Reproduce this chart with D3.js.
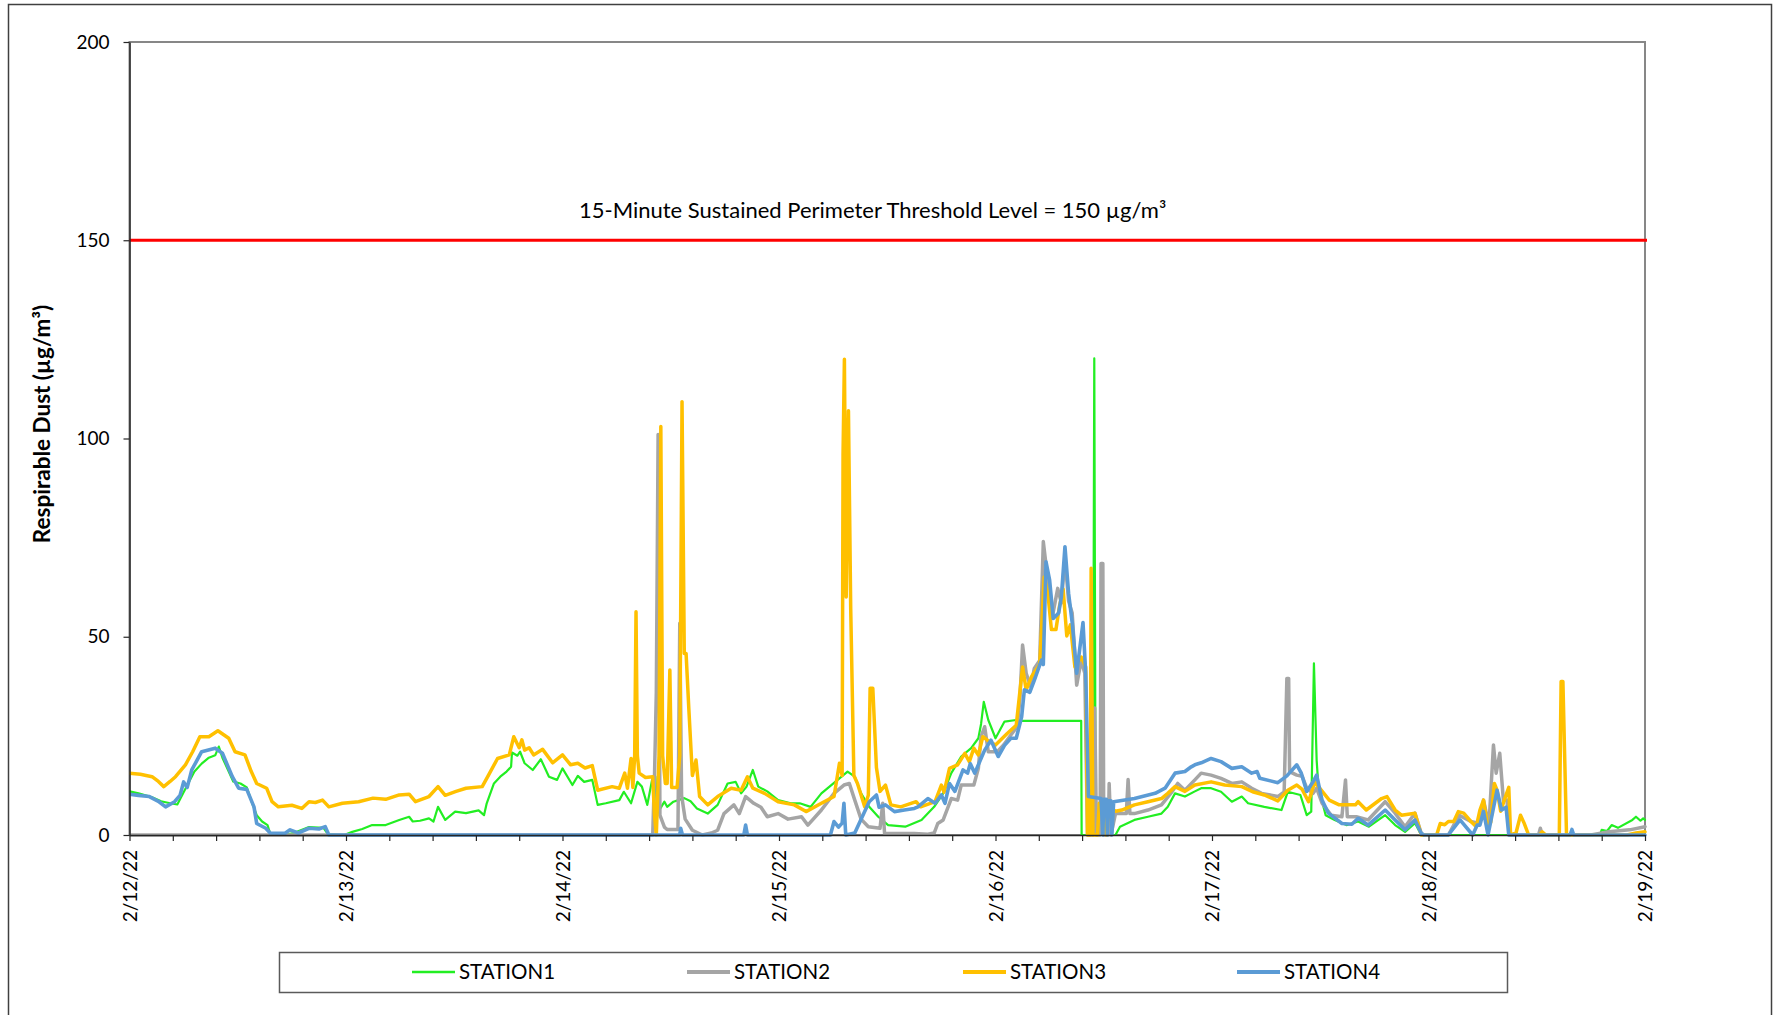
<!DOCTYPE html>
<html>
<head>
<meta charset="utf-8">
<script src="https://cdn.jsdelivr.net/npm/d3@7"></script>
<style>
  body { margin: 0; background: #fff; }
  svg { display: block; }
  text { font-family: Lato, "Open Sans", sans-serif; fill: #000; }
</style>
</head>
<body>
<svg id="chart" width="1774" height="1015"></svg>
<script>
// ---- DATA (hours after 2/12/22 00:00, value in µg/m³) ----
const seriesNames = ["STATION1", "STATION2", "STATION3", "STATION4"];
const yTicks = [0, 50, 100, 150, 200];
const thresholdValue = 150;
const thresholdLabel = "15-Minute Sustained Perimeter Threshold Level = 150 µg/m³";
const yAxisTitle = "Respirable Dust (µg/m³)";
const startDate = new Date(2022, 1, 12);
const endDate = new Date(2022, 1, 19);

const station1 = [
[0,11],[1,10.5],[2.5,9.5],[3.5,8.5],[4.5,8.0],[5.3,7.7],[6.5,13],[7.2,16],[8.0,18],[8.8,19.5],[9.5,20.1],[9.9,22.3],[10.3,19.5],[11.0,16],[11.5,13.5],[12.3,13],[13.0,12],[13.6,8],[14.1,5],[14.7,3.4],[15.3,2.5],[15.6,0.3],[17,0],[18.2,0.5],[19.9,2.0],[21.5,1.8],[22,0.2],[23.8,0],[24.7,0.8],[25.8,1.5],[26.9,2.5],[28.4,2.5],
[29.9,3.8],[31.0,4.6],[31.4,3.4],[32.2,3.6],[33.2,4.2],[33.7,3.4],[34.2,7.1],[35.0,3.8],[36.1,5.9],[37.3,5.5],[38.7,6.2],[39.3,5.0],[39.6,8.0],[40.4,13.0],[41.1,14.7],[41.8,16],[42.3,17.2],[42.4,20.8],[43.0,20.0],[43.3,21.0],[43.8,18.1],[44.7,16.4],[45.6,19.1],[46.5,14.7],[47.4,13.9],[48.0,16.8],[49.1,12.6],[49.7,14.9],[50.4,13.4],[51.3,13.9],[51.9,7.6],[52.8,8],[54.3,8.8],[54.8,10.9],[55.6,8],[56.3,13.4],[56.8,12.2],[57.4,7.6],[58.0,14.7],[58.3,14.7],[58.5,5.4],[59.3,8.4],[59.6,7.1],[60.3,8.4],[61.5,9.3],[62.2,8.5],[62.9,6.7],[64.1,5.4],[65.2,7.6],[66.3,13],[67.2,13.4],[67.8,10.5],[68.4,12.2],[69.1,16.4],[69.7,12.2],[70.7,11],[71.9,8.8],[73.3,8],[74.3,8],[75.5,7.1],[76.7,10.5],[77.8,12.6],[78.5,13.9],[79.6,16],[80.4,14.7],[81.1,10.5],[82.0,7.1],[83.0,4.6],[84.1,2.5],[86,2.1],[87.8,3.8],[89.2,7.1],[90.2,10.5],[91.1,15.6],[92.2,19.8],[93.3,21.9],[94.1,24.4],[94.4,28],[94.7,33.6],[95.2,29],[95.5,27.3],[96,24.4],[97.0,28.6],[98.3,29],[98.8,28.8],[105.5,28.8],[105.55,0],[106.8,0],[106.95,120.2],[107.1,0],[109.3,0],[109.8,2.1],[111.4,3.8],[112.9,4.6],[114.4,5.4],[115.1,7.1],[115.9,10.5],[117,9.7],[118.1,11],[118.8,11.8],[119.9,11.8],[121.0,10.9],[122.2,8.4],[123.3,9.7],[124,8],[125.8,7.1],[127.7,6.3],[128.4,10.9],[129.8,10.1],[130.5,5.0],[131.0,5.9],[131.3,43.3],[131.6,18.9],[131.8,12],[132.6,5],[133.6,3.8],[134.9,2.5],[136.2,3.4],[137.4,2.1],[139.2,5],[140.3,2.5],[141.4,0.8],[142.5,3],[143.2,0],[163.0,0],[163.2,1.3],[163.8,1],[164.3,2.5],[165,1.8],[166.6,3.8],[167.0,4.6],[167.5,3.6],[167.8,4.2],[168,3.8]
];

const station2 = [
[0,0],[58.0,0],[58.2,15],[58.4,36],[58.6,101],[58.8,5],[59.3,2],[59.6,1.4],[60.8,1.4],[61.0,53.4],[61.2,10],[61.6,4],[62.4,1.2],[63.5,0],[64.5,0.5],[65.2,1.2],[65.9,5.4],[67.0,7.6],[67.6,5.4],[68.3,9.7],[69.2,8],[70.0,7],[70.7,4.6],[71.9,5.4],[73,4],[74.5,4.6],[75.2,2.5],[76.7,6.3],[78.1,10.5],[79.2,12.6],[79.8,13],[80.4,8.8],[81.1,4],[81.9,2.1],[83.2,1.7],[83.5,8],[83.7,0.4],[87,0.4],[88.5,0.2],[89.2,0.5],[89.6,2.9],[90.2,3.8],[91.1,9.2],[91.8,8.8],[92.2,12.6],[93.6,12.6],[94.1,16.8],[94.4,24.8],[94.8,27.3],[95.2,21],[96.2,21],[96.9,22.7],[97.7,25.2],[98.4,27.3],[98.7,34],[99.0,47.9],[99.4,40.8],[99.9,37.4],[100.3,42],[100.9,44],[101.3,74],[101.8,64.3],[102.3,55],[102.9,62.2],[103.3,58.5],[103.7,70],[104.1,59],[104.5,56],[105,37.8],[105.5,44],[105.9,40.8],[106.2,0],[106.8,0],[107.0,32],[107.2,0],[107.6,0],[107.7,68.5],[107.9,68.5],[108.0,0],[108.5,0],[108.6,13],[108.8,0],[109.3,5.4],[110.5,5.4],[110.7,14],[110.9,5.4],[111.4,5.4],[112.9,6.3],[114.4,7.6],[115.6,11],[116.2,13],[117,11.3],[118.1,13.9],[118.8,15.6],[119.9,15.1],[121.0,14.3],[122.2,13],[123.3,13.4],[124.4,11.8],[125.5,10.5],[127.3,9.7],[128.0,10.9],[128.3,39.5],[128.5,39.5],[128.6,16],[129.4,15.1],[130.0,14.8],[130.5,11.8],[131.2,10.5],[131.6,11.8],[132.2,8.0],[133.2,5.0],[134.4,4.6],[134.8,13.9],[135.0,4.6],[136.0,4.6],[137.3,3.8],[139.2,8.4],[140.3,5.5],[141.4,2.1],[142.5,5.5],[143.2,0.4],[143.5,0],[146.2,0],[147.4,5],[148.7,3.4],[149.6,2.9],[150.1,8.8],[150.7,2.4],[151.2,22.7],[151.5,15.6],[151.9,20.6],[152.3,8.8],[152.7,8.8],[153.0,0],[156.2,0],[156.4,1.7],[156.6,0],[162,0],[164,0.8],[166.3,1.3],[168,2.1]
];

const station3 = [
[0,15.6],[1.2,15.3],[2.5,14.7],[3.2,13.5],[3.8,12.2],[4.5,13.5],[5.1,14.7],[6.2,17.7],[7.0,21],[7.8,24.8],[8.8,24.8],[9.8,26.3],[11.0,24.4],[11.7,21.0],[12.8,20.2],[13.5,16],[14.1,13.0],[15.2,11.8],[15.8,8.4],[16.5,7.1],[18,7.5],[19.1,6.7],[19.9,8.4],[20.6,8.2],[21.4,8.8],[22.1,7.1],[23.6,8.0],[25.4,8.4],[27,9.3],[28.4,9.0],[29.9,10.1],[31.0,10.3],[31.7,8.4],[33.2,9.7],[34.2,12.2],[35.0,10],[36.2,11],[37.3,11.8],[39.1,12.2],[39.8,15.1],[40.8,19.3],[42.1,20.2],[42.6,24.8],[43.2,22],[43.5,24],[43.8,21.4],[44.3,22],[44.8,20.2],[45.8,21.6],[46.9,18.2],[48.0,20.2],[48.9,17.7],[49.7,18.1],[50.5,16.9],[51.3,17.5],[51.9,11.3],[53.5,12.2],[54.3,11.8],[54.9,15.6],[55.2,11.8],[55.6,19.3],[55.8,12],[56.0,20],[56.15,56.3],[56.3,20],[56.5,15.6],[57.2,14.5],[58.0,14.7],[58.2,5],[58.4,0],[58.7,20],[58.9,103],[59.1,20],[59.4,13],[59.6,13],[59.9,41.6],[60.1,12],[60.7,12],[61.0,20],[61.25,109.3],[61.5,45.8],[61.7,45.8],[62.0,32],[62.4,15],[62.8,18.9],[63.2,9.7],[64.1,7.6],[65.2,9.7],[66.7,11.8],[67.8,11.3],[68.5,14.7],[69.1,11.8],[70.4,10.5],[71.9,8.4],[73.7,7.6],[75.0,5.9],[76.7,8],[78.1,9.7],[78.7,18.1],[79.0,15],[79.1,96],[79.25,120],[79.45,60],[79.7,107],[79.95,57],[80.3,15],[80.7,13],[81.5,7.1],[81.9,10],[82.1,37],[82.4,37],[82.8,17],[83.2,11],[83.8,12.6],[84.4,7.6],[85.5,7.1],[87.2,8.4],[87.7,7.1],[89.3,8.4],[90,12.6],[90.3,10.8],[90.9,16.8],[91.8,17.7],[92.6,20.6],[93.1,18.5],[93.6,21.9],[94.1,20.2],[94.6,24.8],[95.1,23.9],[96,22.7],[97.3,25.6],[98.3,27.7],[99.0,42.4],[99.4,36.6],[100,40],[100.9,43],[101.4,65.1],[101.8,61],[102.2,51.8],[102.7,51.8],[103.1,57.8],[103.5,62],[103.9,50.2],[104.3,53],[104.8,42.4],[105.5,44.9],[106.0,42.4],[106.2,0],[106.5,0],[106.6,67.3],[106.8,0],[107.3,0],[107.5,8],[108.0,8],[108.3,0],[108.6,7],[109.3,6],[110.0,6.3],[111.4,7.6],[112.9,8.4],[114.4,9.2],[115.1,10.5],[115.9,12.2],[117,11],[118.1,12.6],[119.9,13.4],[121.4,12.6],[123.3,12.2],[124.5,10.9],[125.8,10.1],[127.3,8.6],[128.4,11.3],[129.4,12.6],[130.0,11.5],[130.7,8.4],[131.4,13.4],[131.8,12.2],[133,8.8],[134.1,7.6],[135.9,7.6],[136.2,8.4],[137.1,6.3],[138.8,9.2],[139.4,9.7],[140.3,6.3],[141,5],[142.5,5.5],[143.2,0],[144.9,0],[145.3,2.9],[145.8,2.6],[146.2,3.4],[146.8,3.4],[147.3,5.9],[147.9,5.5],[148.7,3.4],[149.3,2.1],[149.7,6.3],[150.1,8.8],[150.5,2.9],[150.9,3.2],[151.3,13],[151.6,11.3],[152.0,6],[152.4,8.8],[152.9,12],[153.1,0],[153.7,0.5],[154.2,5],[154.6,3],[155.1,0],[156.3,0],[156.6,0.8],[157,0],[158.5,0],[158.7,38.7],[158.9,38.7],[159.3,0],[166,0],[167,0.5],[168,0.8]
];

const station4 = [
[0,10.3],[1.0,10],[2.2,9.7],[3.2,8.5],[4.0,7.1],[5.0,8.4],[5.6,10],[6.0,13.4],[6.4,12],[6.9,16.4],[8.0,21.0],[9.5,21.9],[10.3,20.6],[11.4,14.7],[12.1,11.8],[13.0,11.5],[13.8,7.1],[14.1,2.9],[15.1,1.7],[15.6,0.5],[17.2,0.4],[17.8,1.3],[18.7,0.5],[19.9,1.7],[21.0,1.5],[21.7,2.1],[22.1,0],[61.0,0],[61.1,1.7],[61.3,0],[68.1,0],[68.3,2.5],[68.5,0],[77.7,0],[78.1,3.4],[78.6,2],[79.0,3],[79.2,8],[79.4,0],[80.4,0.5],[81.1,4],[82.0,8.4],[82.8,10.1],[83.1,7],[83.8,7.6],[84.8,5.9],[85.9,6.3],[87.0,6.7],[87.4,7.1],[88.5,9.2],[89.3,8],[90.0,10.1],[90.4,8],[90.9,13],[91.5,11],[92.4,16.4],[92.9,15.6],[93.2,18],[93.7,15.6],[94.8,21.4],[95.5,23.9],[96.3,19.8],[97.0,22.6],[97.7,24.4],[98.3,24.4],[98.9,29.8],[99.2,36.6],[99.8,36],[100.3,39],[100.7,41.6],[101.1,44.1],[101.3,43],[101.6,68.9],[102.0,64.3],[102.4,54.6],[103.0,56],[103.3,60],[103.7,72.7],[104.1,61],[104.5,53.6],[105.0,40.8],[105.7,53.6],[106.0,40.8],[106.3,9.7],[107.7,9.2],[107.9,0],[108.0,9.0],[108.3,9],[108.4,0],[108.5,8.6],[108.8,8.6],[108.9,0],[109.1,8.4],[111.4,9.2],[113.7,10.5],[114.8,11.8],[115.9,15.6],[117,16],[117.7,17.2],[118.1,17.7],[118.8,18.2],[119.9,19.3],[121.0,18.5],[122.2,16.8],[123.3,17.2],[124.4,15.6],[125.0,16],[125.3,14.3],[127.3,13.2],[128.3,14.9],[129.4,17.7],[129.9,15.6],[130.5,11],[131.2,13.4],[131.6,15.1],[132.2,8.8],[132.9,5.5],[134.4,2.9],[135.5,2.7],[136.2,4.2],[137.3,2.5],[139.2,6.3],[140.3,3.8],[141.4,1.3],[142.5,3.8],[143.2,0.4],[143.5,0],[146.2,0],[147.5,3.8],[148.9,0],[149.4,2.5],[149.7,2.5],[150.1,5.9],[150.6,0],[151.6,11.3],[152.1,6.3],[152.6,7],[152.9,0],[159.7,0],[159.9,1.4],[160.1,0],[168,0]
];

const seriesData = [station1, station2, station3, station4];
const seriesColors = ["#22ee22", "#a5a5a5", "#ffc000", "#5b9bd5"];
const seriesWidths = [2.2, 3.5, 3.5, 3.6];

// ---- LAYOUT ----
const svg = d3.select("#chart");
const plot = { left: 129.5, top: 42, right: 1645, bottom: 835 };

// outer frame
svg.append("rect").attr("x", 8.5).attr("y", 4.5).attr("width", 1763).attr("height", 1100)
  .attr("fill", "none").attr("stroke", "#404040").attr("stroke-width", 1.5);

const toDate = h => new Date(startDate.getTime() + h * 3600000);
const x = d3.scaleTime().domain([startDate, endDate]).range([plot.left, plot.right]);
const y = d3.scaleLinear().domain([0, 200]).range([plot.bottom, plot.top]);

// plot area border (top/right)
svg.append("rect").attr("x", plot.left).attr("y", plot.top)
  .attr("width", plot.right - plot.left).attr("height", plot.bottom - plot.top)
  .attr("fill", "none").attr("stroke", "#878787").attr("stroke-width", 2);

// clip
svg.append("clipPath").attr("id", "clip").append("rect")
  .attr("x", plot.left).attr("y", plot.top - 2)
  .attr("width", plot.right - plot.left + 2).attr("height", plot.bottom - plot.top + 4);

// series
const line = d3.line().x(d => x(toDate(d[0]))).y(d => y(d[1]));
const g = svg.append("g").attr("clip-path", "url(#clip)");
seriesData.forEach((s, i) => {
  g.append("path").datum(s).attr("d", line)
    .attr("fill", "none").attr("stroke", seriesColors[i])
    .attr("stroke-width", seriesWidths[i])
    .attr("stroke-linejoin", "round").attr("stroke-linecap", "round");
});

// threshold
svg.append("line").attr("x1", plot.left).attr("x2", plot.right + 2)
  .attr("y1", y(thresholdValue)).attr("y2", y(thresholdValue))
  .attr("stroke", "#ff0000").attr("stroke-width", 3);
svg.append("text").attr("x", 579).attr("y", 218)
  .attr("font-size", 22).text(thresholdLabel);

// Y axis
const yAxis = d3.axisLeft(y).tickValues(yTicks).tickSize(6).tickSizeOuter(0).tickPadding(14);
const yg = svg.append("g").attr("transform", `translate(${plot.left},0)`).call(yAxis);
yg.select(".domain").attr("stroke", "#262626").attr("stroke-width", 1.5);
yg.selectAll(".tick line").attr("stroke", "#262626").attr("stroke-width", 1.2);
yg.selectAll(".tick text").attr("font-size", 19).attr("font-family", "Lato").attr("fill", "#000");

// X axis
const step = 4.8; // hours between ticks
const tickHours = d3.range(0, 168 + 0.001, step);
const xAxis = d3.axisBottom(x).tickValues(tickHours.map(toDate)).tickSize(6).tickSizeOuter(0)
  .tickFormat((d, i) => (i % 5 === 0 ? d3.timeFormat("%-m/%-d/%y")(d) : ""));
const xg = svg.append("g").attr("transform", `translate(0,${plot.bottom})`).call(xAxis);
xg.select(".domain").attr("stroke", "#262626").attr("stroke-width", 1.5);
xg.selectAll(".tick line").attr("stroke", "#262626").attr("stroke-width", 1.2);
xg.selectAll(".tick text").attr("font-size", 19).attr("font-family", "Lato").attr("fill", "#000")
  .attr("transform", "rotate(-90)").attr("text-anchor", "end")
  .attr("x", -15).attr("y", 0).attr("dy", "0.35em");

// Y axis title
svg.append("text").attr("transform", "translate(42,424) rotate(-90)")
  .attr("text-anchor", "middle").attr("dy", "0.35em")
  .attr("font-size", 22.5).attr("font-weight", "bold").text(yAxisTitle);

// Legend
const legend = svg.append("g");
legend.append("rect").attr("x", 279.5).attr("y", 952.5).attr("width", 1228).attr("height", 40)
  .attr("fill", "#fff").attr("stroke", "#5a5a5a").attr("stroke-width", 1.5);
const legendX = [412, 687, 963, 1237];
seriesNames.forEach((name, i) => {
  legend.append("line").attr("x1", legendX[i]).attr("x2", legendX[i] + 43)
    .attr("y1", 972).attr("y2", 972)
    .attr("stroke", seriesColors[i]).attr("stroke-width", i === 0 ? 2.5 : 4);
  legend.append("text").attr("x", legendX[i] + 47).attr("y", 972).attr("dy", "0.35em")
    .attr("font-size", 20.5).text(name);
});
</script>
</body>
</html>
